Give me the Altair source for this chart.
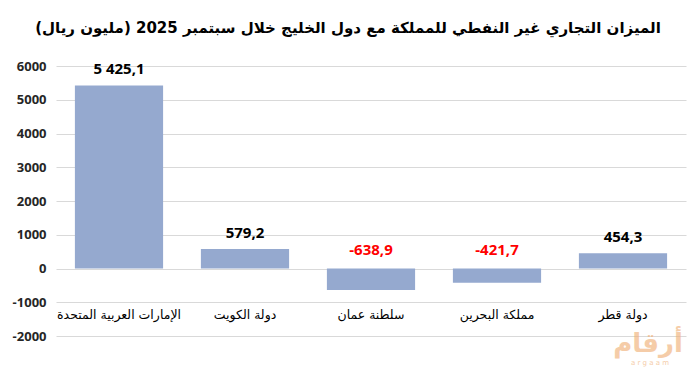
import altair as alt
import pandas as pd

countries = ["الإمارات العربية المتحدة", "دولة الكويت", "سلطنة عمان", "مملكة البحرين", "دولة قطر"]
values = [5425.1, 579.2, -638.9, -421.7, 454.3]
value_labels = ["5 425,1", "579,2", "-638,9", "-421,7", "454,3"]
y_ticks = [-2000, -1000, 0, 1000, 2000, 3000, 4000, 5000, 6000]
title_text = "الميزان التجاري غير النفطي للمملكة مع دول الخليج خلال سبتمبر 2025 (مليون ريال)"

df = pd.DataFrame({"country": countries, "value": values, "label": value_labels})

AR_FONT = "DejaVu Sans"
NUM_FONT = "Open Sans"

x_enc = alt.X("country:N", sort=countries, axis=None,
              scale=alt.Scale(paddingInner=0.3, paddingOuter=0.15))
y_scale = alt.Scale(domain=[-2000, 6000], nice=False, zero=False)
y_axis = alt.Axis(values=y_ticks, labelExpr="datum.value", labelOverlap=False,
                  grid=True, gridColor="#D9D9D9", title=None,
                  domain=False, ticks=False, labelFont=NUM_FONT, labelFontWeight="bold",
                  labelFontSize=13, labelColor="#262626", labelPadding=10)

base = alt.Chart(df)

bars = base.mark_bar(color="#95A9CF").encode(
    x=x_enc,
    y=alt.Y("value:Q", scale=y_scale, axis=y_axis),
    y2=alt.datum(0),
)

pos_labels = base.transform_filter("datum.value >= 0").mark_text(
    font=NUM_FONT, fontWeight="bold", fontSize=15, color="#000000", baseline="middle", dy=-16
).encode(x=x_enc, y=alt.Y("value:Q", scale=y_scale, axis=y_axis), text="label:N")

neg_labels = base.transform_filter("datum.value < 0").transform_calculate(zero="0").mark_text(
    font=NUM_FONT, fontWeight="bold", fontSize=15, color="#FF0000", baseline="middle", dy=-19
).encode(x=x_enc, y=alt.Y("zero:Q", scale=y_scale, axis=y_axis), text="label:N")

cat_labels = base.transform_calculate(ypos="-1000").mark_text(
    font=AR_FONT, fontSize=12.5, color="#000000", baseline="middle", dy=13
).encode(x=x_enc, y=alt.Y("ypos:Q", scale=y_scale, axis=y_axis), text="country:N")

wm = alt.Chart(pd.DataFrame({"t": ["أرقام"]})).mark_text(
    font=AR_FONT, fontSize=26, fontWeight="bold", color="#F0B27A", opacity=0.65, align="center", baseline="middle"
).encode(x=alt.value(592), y=alt.value(278), text="t:N")
wm2 = alt.Chart(pd.DataFrame({"t": ["a r g a a m"]})).mark_text(
    font="DejaVu Sans", fontSize=7, color="#F0B27A", opacity=0.65, align="center", baseline="middle"
).encode(x=alt.value(594), y=alt.value(297), text="t:N")

chart = alt.layer(bars, pos_labels, neg_labels, cat_labels, wm, wm2).properties(
    width=630, height=270,
    padding={"left": 48, "top": 58, "right": 2, "bottom": 40},
    autosize=alt.AutoSizeParams(type="none"),
    title=alt.TitleParams(title_text, font=AR_FONT, fontSize=15, fontWeight="bold",
                          color="#000000", anchor="middle", offset=24, dx=-23),
).configure_view(stroke=None)

chart.save("out.html", embed_options={"renderer": "svg", "actions": False})
